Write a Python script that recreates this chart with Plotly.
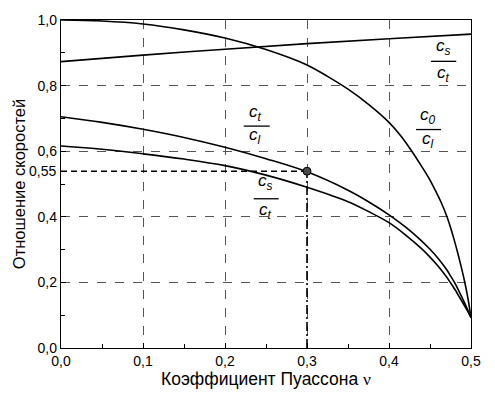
import plotly.graph_objects as go

# ---- data ----
nu = [0.0, 0.05, 0.1, 0.15, 0.2, 0.25, 0.3, 0.35, 0.375, 0.4, 0.42, 0.44, 0.45, 0.46, 0.47,
      0.475, 0.48, 0.485, 0.49, 0.495, 0.5]
ct_cl = [0.705, 0.688, 0.667, 0.642, 0.612, 0.577, 0.537, 0.481, 0.446, 0.406, 0.369, 0.326, 0.301, 0.273, 0.240,
         0.220, 0.199, 0.175, 0.149, 0.122, 0.093]
cs_cl = [0.616, 0.606, 0.592, 0.576, 0.556, 0.527, 0.490, 0.446, 0.416, 0.382, 0.345, 0.302, 0.277, 0.249, 0.217,
         0.199, 0.180, 0.159, 0.138, 0.116, 0.093]

nu_c0 = [0.0, 0.05, 0.1, 0.15, 0.2, 0.25, 0.3, 0.325, 0.35, 0.375, 0.4, 0.415, 0.427, 0.44, 0.45, 0.457,
         0.4634, 0.4707, 0.476, 0.48, 0.484, 0.488, 0.492, 0.496, 0.5]
c0_cl = [1.0, 0.997, 0.988, 0.970, 0.945, 0.910, 0.863, 0.828, 0.789, 0.743, 0.688, 0.645, 0.603, 0.553, 0.512, 0.478,
         0.445, 0.400, 0.360, 0.325, 0.288, 0.248, 0.205, 0.155, 0.093]

nu_rt = [0.0, 0.1, 0.2, 0.3, 0.4, 0.5]
cs_ct = [0.873, 0.893, 0.911, 0.928, 0.943, 0.957]

mark_nu = [0.3]
mark_val = [0.539]

x_ticks = [0.0, 0.1, 0.2, 0.3, 0.4, 0.5]
x_labels = ["0,0", "0,1", "0,2", "0,3", "0,4", "0,5"]
y_ticks = [0.0, 0.2, 0.4, 0.6, 0.8, 1.0]
y_labels = ["0,0", "0,2", "0,4", "0,6", "0,8", "1,0"]
mark_label = "0,55"

FONT = "Liberation Sans, Arial, sans-serif"
line = dict(color="black", width=1.6)

fig = go.Figure()
fig.add_trace(go.Scatter(x=nu_c0, y=c0_cl, mode="lines", line=dict(line, shape="spline", smoothing=1.0),
                         showlegend=False, hoverinfo="skip"))
for ys in (ct_cl, cs_cl):
    fig.add_trace(go.Scatter(x=nu, y=ys, mode="lines", line=dict(line, shape="spline", smoothing=1.0),
                             showlegend=False, hoverinfo="skip"))
fig.add_trace(go.Scatter(x=nu_rt, y=cs_ct, mode="lines", line=dict(line, shape="spline"),
                         showlegend=False, hoverinfo="skip"))

# guide lines to the marked point
fig.add_trace(go.Scatter(x=[0, mark_nu[0]], y=[mark_val[0], mark_val[0]], mode="lines",
                         line=dict(color="black", width=1.6, dash="6px,4px"),
                         showlegend=False, hoverinfo="skip"))
fig.add_trace(go.Scatter(x=[mark_nu[0], mark_nu[0]], y=[0, mark_val[0]], mode="lines",
                         line=dict(color="black", width=1.6, dash="9px,3px,2px,3px"),
                         showlegend=False, hoverinfo="skip"))
fig.add_trace(go.Scatter(x=mark_nu, y=mark_val, mode="markers",
                         marker=dict(size=8, color="#4a4a4a", line=dict(color="black", width=1)),
                         showlegend=False, hoverinfo="skip"))

# fraction labels: (num, den, x_center, y_num, y_line, y_den, x0, x1)
fracs = [
    ("t", "l", 0.237, 0.717, 0.6765, 0.645, 0.2228, 0.2545),
    ("s", "t", 0.249, 0.506, 0.455, 0.419, 0.2350, 0.2655),
    ("s", "t", 0.4666, 0.918, 0.874, 0.835, 0.4512, 0.4820),
    ("0", "l", 0.4477, 0.707, 0.666, 0.634, 0.4330, 0.4635),
]
for n, d, xc, yn, yl, yd, x0, x1 in fracs:
    for sub, yy in ((n, yn), (d, yd)):
        fig.add_annotation(x=xc, y=yy, xref="x", yref="y", showarrow=False,
                           text=f"<i>c</i><sub><i>{sub}</i></sub>",
                           font=dict(family=FONT, size=17, color="black"))
    fig.add_shape(type="line", xref="x", yref="y", x0=x0, x1=x1, y0=yl, y1=yl,
                  line=dict(color="black", width=1.3))

# extra tick label 0,55
fig.add_annotation(x=0, y=mark_val[0], xref="paper", yref="y", xanchor="right", yanchor="middle",
                   xshift=-3, showarrow=False, text=mark_label,
                   font=dict(family=FONT, size=14, color="black"))

axis_common = dict(showline=True, linecolor="black", linewidth=1.4, mirror=True,
                   ticks="inside", ticklen=5, tickcolor="black",
                   showgrid=True, gridcolor="#555555", gridwidth=1, griddash="dash",
                   zeroline=False, tickfont=dict(family=FONT, size=14, color="black"))

fig.update_xaxes(axis_common, range=[0, 0.5], tickvals=x_ticks, ticktext=x_labels,
                 minor=dict(ticks="inside", ticklen=4, dtick=0.05, tick0=0, tickcolor="black", showgrid=False),
                 title=dict(text="Коэффициент Пуассона <span style=\"font-family:'Liberation Serif'\">ν</span>",
                            font=dict(family=FONT, size=17.5, color="black"), standoff=3))
fig.update_yaxes(axis_common, range=[0, 1.0], tickvals=y_ticks, ticktext=y_labels,
                 minor=dict(ticks="inside", ticklen=4, dtick=0.1, tick0=0, tickcolor="black", showgrid=False),
                 title=dict(text="Отношение скоростей", font=dict(family=FONT, size=16.5, color="black"),
                            standoff=7))

fig.update_layout(width=495, height=397, margin=dict(l=61, r=24, t=16, b=49),
                  plot_bgcolor="white", paper_bgcolor="white", font=dict(family=FONT))

fig.write_html("out.html", config={"displayModeBar": False},
               post_script="document.body.style.margin='0px';")
